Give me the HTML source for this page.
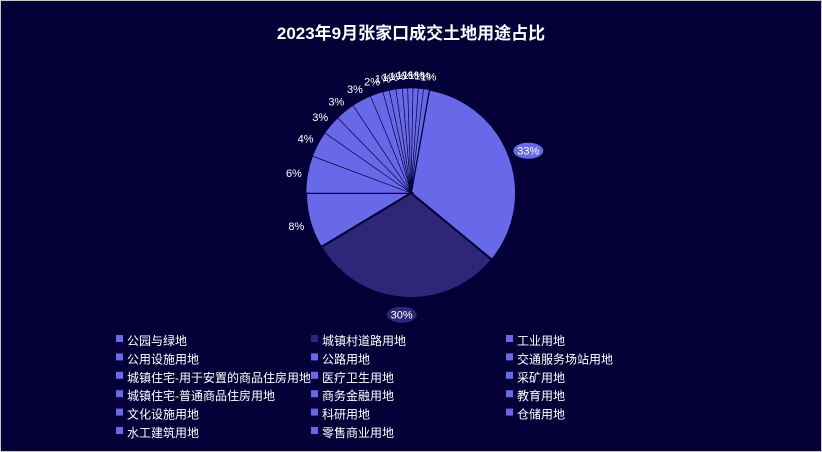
<!DOCTYPE html>
<html><head><meta charset="utf-8"><style>
html,body{margin:0;padding:0;background:#040037;}
#c{position:relative;width:820px;height:450px;border:1px solid #c8c8c8;background:#040037;overflow:hidden;font-family:"Liberation Sans","Noto Sans CJK SC",sans-serif;}
</style></head><body>
<div id="c">
<svg id="s" width="820" height="450" xmlns="http://www.w3.org/2000/svg" style="position:absolute;left:0;top:0">
<text x="410" y="38" text-anchor="middle" fill="#fff" font-size="17" font-weight="bold" font-family="Liberation Sans,Noto Sans CJK SC,sans-serif">2023年9月张家口成交土地用途占比</text>
<g id="pie"></g>
<g id="lab" font-size="11" fill="#fff" font-family="Liberation Sans,sans-serif"></g>
<g id="leg" font-size="12" fill="#fff" font-family="Liberation Sans,Noto Sans CJK SC,sans-serif"></g>
</svg>
</div>
<script>
var cx=410,cy=192,r=105;
var sl=[[119.5,'#6769e8','33%'],[109.5,'#2d2679','30%'],[31,'#6769e8','8%'],[20.5,'#6769e8','6%'],[14.4,'#6769e8','4%'],[10.8,'#6769e8','3%'],[10.8,'#6769e8','3%'],[10.8,'#6769e8','3%'],[7.2,'#6769e8','2%'],[3.6,'#6769e8','1%'],[3.6,'#6769e8','1%'],[3.6,'#6769e8','1%'],[2.9,'#6769e8','1%'],[2.9,'#6769e8','1%'],[2.9,'#6769e8','1%'],[2.9,'#6769e8','1%'],[3.1,'#6769e8','1%']];
var a=10,P='',L='';
function pt(d,rr){var t=d*Math.PI/180;return [cx+rr*Math.sin(t),cy-rr*Math.cos(t)];}
sl.forEach(function(s,i){
 var a2=a+s[0],p1=pt(a,r),p2=pt(a2,r);
 var sw=i<3?2:0.6;
 P+='<path d="M'+cx+','+cy+'L'+p1[0].toFixed(1)+','+p1[1].toFixed(1)+'A'+r+','+r+' 0 '+(s[0]>180?1:0)+' 1 '+p2[0].toFixed(1)+','+p2[1].toFixed(1)+'Z" fill="'+s[1]+'" stroke="#040037" stroke-width="'+sw+'"/>';
 var m=a+s[0]/2,q=pt(m,r+(i<2?20:14));
 var dy=(i==1)?1:5;
 q[1]+=dy;
 if(i<2){L+='<ellipse cx="'+q[0].toFixed(1)+'" cy="'+(q[1]-4).toFixed(1)+'" rx="15" ry="8" fill="'+s[1]+'"/>';}
 L+='<text x="'+q[0].toFixed(1)+'" y="'+q[1].toFixed(1)+'" text-anchor="middle">'+s[2]+'</text>';
 a=a2;
});
document.getElementById('pie').innerHTML=P;
document.getElementById('lab').innerHTML=L;
var names=['公园与绿地','城镇村道路用地','工业用地','公用设施用地','公路用地','交通服务场站用地','城镇住宅-用于安置的商品住房用地','医疗卫生用地','采矿用地','城镇住宅-普通商品住房用地','商务金融用地','教育用地','文化设施用地','科研用地','仓储用地','水工建筑用地','零售商业用地'];
var xs=[114,309,504],G='';
names.forEach(function(n,i){var c=i%3,rw=Math.floor(i/3),y=339+rw*18.4;
 G+='<rect x="'+(xs[c]+1)+'" y="'+(y-5)+'" width="7" height="7" fill="'+(i==1?'#2d2679':'#6769e8')+'"/>';
 G+='<text x="'+(xs[c]+12)+'" y="'+(y+5)+'">'+n+'</text>';});
document.getElementById('leg').innerHTML=G;
</script>
</body></html>
